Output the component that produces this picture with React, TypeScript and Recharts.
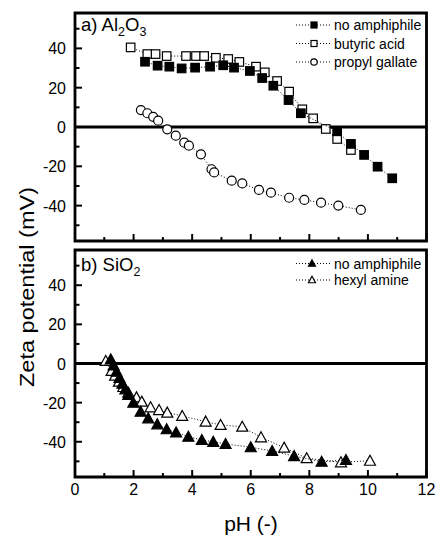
import React from 'react';
import { ScatterChart, Scatter, XAxis, YAxis, ReferenceLine, ReferenceArea, Customized } from 'recharts';

// ---- Data (pH, zeta potential mV) ----
const alNonePH = [2.39, 2.82, 3.22, 3.64, 4.10, 4.61, 5.06, 5.43, 5.97, 6.39, 6.77, 7.29, 7.71, 8.95, 9.42, 9.87, 10.33, 10.83];
const alNoneZeta = [33.2, 31.2, 30.7, 29.8, 30.2, 30.7, 31.4, 30.2, 28.5, 24.9, 21.0, 13.7, 7.0, -2.2, -8.6, -14.2, -20.2, -26.1];

const alButyricPH = [1.90, 2.47, 2.75, 3.13, 3.79, 4.13, 4.41, 4.81, 5.23, 5.61, 6.18, 6.48, 6.90, 7.31, 7.76, 8.13, 8.56, 8.95, 9.42];
const alButyricZeta = [40.5, 37.1, 37.1, 36.1, 36.1, 36.1, 36.1, 35.2, 34.6, 33.1, 30.7, 27.8, 23.4, 18.0, 9.0, 4.4, -1.0, -6.1, -11.7];

const alGallatePH = [2.25, 2.47, 2.67, 2.84, 3.15, 3.44, 3.73, 3.89, 4.30, 4.66, 4.75, 5.35, 5.71, 6.28, 6.69, 7.31, 7.83, 8.40, 8.99, 9.76];
const alGallateZeta = [8.6, 7.0, 5.2, 3.2, -1.2, -4.4, -8.0, -9.5, -13.9, -21.5, -23.1, -27.3, -28.7, -32.0, -33.4, -36.0, -37.1, -38.5, -40.0, -42.2];

const siNonePH = [1.22, 1.32, 1.42, 1.52, 1.62, 1.72, 1.82, 1.99, 2.24, 2.50, 2.81, 3.13, 3.45, 3.87, 4.33, 4.72, 5.14, 6.00, 6.73, 7.48, 8.42, 9.25];
const siNoneZeta = [2.1, -1.0, -4.2, -7.3, -10.3, -13.2, -16.1, -20.0, -24.6, -28.0, -31.1, -33.6, -35.2, -37.4, -39.1, -40.0, -41.1, -42.8, -44.7, -47.3, -50.2, -49.3];

const siHexylPH = [1.05, 1.25, 1.37, 1.50, 1.65, 1.82, 2.10, 2.28, 2.58, 2.87, 3.15, 3.66, 4.46, 4.97, 5.71, 6.35, 7.14, 7.91, 9.08, 10.07];
const siHexylZeta = [1.3, -3.8, -6.2, -9.3, -12.0, -14.9, -17.3, -19.5, -22.4, -23.8, -25.1, -26.8, -29.7, -31.4, -32.3, -37.7, -43.0, -48.4, -50.5, -49.7];

const xTicks = [0, 1, 2, 3, 4, 5, 6, 7, 8, 9, 10, 11, 12];
const yTicks = [-50, -40, -30, -20, -10, 0, 10, 20, 30, 40, 50];
const xDomain = [0, 12];
const yDomain = [-58, 58];

const legendA = ['no amphiphile', 'butyric acid', 'propyl gallate'];
const legendB = ['no amphiphile', 'hexyl amine'];

const zip = (xs: number[], ys: number[]) => xs.map((x, i) => ({ x, y: ys[i] }));

const FONT = '"Liberation Sans", Arial, sans-serif';
const lineStyle = { stroke: '#000', strokeWidth: 1, strokeDasharray: '1 2' };

// ---- Markers ----
const square = (filled: boolean, s = 8.5) => (p: any) => (
  <rect x={p.cx - s / 2} y={p.cy - s / 2} width={s} height={s} fill={filled ? '#000' : '#fff'} stroke="#000" strokeWidth={1.2} />
);
const circle = (r = 4.5) => (p: any) => (
  <circle cx={p.cx} cy={p.cy} r={r} fill="#fff" stroke="#000" strokeWidth={1.2} />
);
const triangle = (filled: boolean, w = 11, h = 9) => (p: any) => (
  <polygon
    points={`${p.cx},${p.cy - h / 2 - 1} ${p.cx + w / 2},${p.cy + h / 2} ${p.cx - w / 2},${p.cy + h / 2}`}
    fill={filled ? '#000' : '#fff'}
    stroke="#000"
    strokeWidth={1.2}
    strokeLinejoin="miter"
  />
);

// ---- Ticks ----
const makeXTick = (showLabel: boolean) => (p: any) => {
  const v = p.payload.value;
  const major = v % 2 === 0;
  return (
    <g>
      <line x1={p.x} x2={p.x} y1={p.y} y2={p.y - (major ? 7 : 4)} stroke="#000" strokeWidth={2} />
      {showLabel && major ? (
        <text x={p.x} y={p.y + 18} textAnchor="middle" fontSize={16} fontFamily={FONT} fill="#000">
          {v}
        </text>
      ) : null}
    </g>
  );
};
const yTick = (p: any) => {
  const v = p.payload.value;
  const major = v % 20 === 0;
  return (
    <g>
      <line x1={p.x} x2={p.x + (major ? 7 : 4.5)} y1={p.y} y2={p.y} stroke="#000" strokeWidth={2} />
      {major ? (
        <text x={p.x - 9} y={p.y + 6} textAnchor="end" fontSize={16} fontFamily={FONT} fill="#000">
          {v}
        </text>
      ) : null}
    </g>
  );
};

// ---- Legend rows ----
const LegendRow = ({ y, label, marker }: { y: number; label: string; marker: React.ReactNode }) => (
  <g>
    <line x1={296} x2={331} y1={y} y2={y} {...lineStyle} />
    {marker}
    <text x={334} y={y + 5} fontSize={14} fontFamily={FONT} fill="#000">{label}</text>
  </g>
);

const DecorA = () => {
  const rows = [25, 43.5, 62];
  return (
    <g>
      <text x={81} y={31} fontSize={18.5} fontFamily={FONT} fill="#000">
        a) Al<tspan fontSize={12.5} dy={5}>2</tspan><tspan dy={-5}>O</tspan><tspan fontSize={12.5} dy={5}>3</tspan>
      </text>
      <LegendRow y={rows[0]} label={legendA[0]} marker={square(true, 6)({ cx: 314, cy: rows[0] })} />
      <LegendRow y={rows[1]} label={legendA[1]} marker={square(false, 6)({ cx: 314, cy: rows[1] })} />
      <LegendRow y={rows[2]} label={legendA[2]} marker={circle(3.2)({ cx: 314, cy: rows[2] })} />
    </g>
  );
};

const DecorB = () => {
  const rows = [263.5, 280];
  return (
    <g>
      <text x={81} y={271} fontSize={18.5} fontFamily={FONT} fill="#000">
        b) SiO<tspan fontSize={12.5} dy={5}>2</tspan>
      </text>
      <LegendRow y={rows[0]} label={legendB[0]} marker={triangle(true, 7, 5.5)({ cx: 312, cy: rows[0] })} />
      <LegendRow y={rows[1]} label={legendB[1]} marker={triangle(false, 7, 5.5)({ cx: 312, cy: rows[1] })} />
      <text
        x={0}
        y={0}
        transform="translate(27,287) rotate(-90)"
        textAnchor="middle"
        dy="0.36em"
        fontSize={19.5}
        fontFamily={FONT}
        fill="#000"
        textLength={200}
        lengthAdjust="spacingAndGlyphs"
      >
        Zeta potential (mV)
      </text>
      <text x={251} y={531} textAnchor="middle" fontSize={21} fontFamily={FONT} fill="#000">
        pH (-)
      </text>
    </g>
  );
};

const Frame = () => (
  <>
    <ReferenceArea x1={xDomain[0]} x2={xDomain[1]} y1={yDomain[0]} y2={yDomain[1]} fill="none" fillOpacity={0} stroke="#000" strokeWidth={2.8} strokeOpacity={1} />
    <ReferenceLine y={0} stroke="#000" strokeWidth={2.8} />
  </>
);

export default function App() {
  return (
    <div style={{ position: 'absolute', left: 0, top: 0, width: 440, height: 540, background: '#fff' }}>
      <div style={{ position: 'absolute', left: 0, top: 0 }}>
        <ScatterChart width={440} height={540} margin={{ top: 250, right: 13.5, bottom: 0, left: 0 }}>
          <XAxis type="number" dataKey="x" domain={xDomain} ticks={xTicks} interval={0} height={63} tickSize={0} tickMargin={0} axisLine={false} tickLine={false} tick={makeXTick(true)} allowDataOverflow />
          <YAxis type="number" dataKey="y" domain={yDomain} ticks={yTicks} interval={0} width={75} tickSize={0} tickMargin={0} axisLine={false} tickLine={false} tick={yTick} allowDataOverflow />
          {Frame()}
          <Scatter data={zip(siHexylPH, siHexylZeta)} line={lineStyle} lineType="joint" shape={triangle(false)} isAnimationActive={false} />
          <Scatter data={zip(siNonePH, siNoneZeta)} line={lineStyle} lineType="joint" shape={triangle(true)} isAnimationActive={false} />
          <Customized component={DecorB} />
        </ScatterChart>
      </div>
      <div style={{ position: 'absolute', left: 0, top: 0 }}>
        <ScatterChart width={440} height={250} margin={{ top: 13, right: 13.5, bottom: 0, left: 0 }}>
          <XAxis type="number" dataKey="x" domain={xDomain} ticks={xTicks} interval={0} height={9} tickSize={0} tickMargin={0} axisLine={false} tickLine={false} tick={makeXTick(false)} allowDataOverflow />
          <YAxis type="number" dataKey="y" domain={yDomain} ticks={yTicks} interval={0} width={75} tickSize={0} tickMargin={0} axisLine={false} tickLine={false} tick={yTick} allowDataOverflow />
          {Frame()}
          <Scatter data={zip(alGallatePH, alGallateZeta)} line={lineStyle} lineType="joint" shape={circle()} isAnimationActive={false} />
          <Scatter data={zip(alButyricPH, alButyricZeta)} line={lineStyle} lineType="joint" shape={square(false)} isAnimationActive={false} />
          <Scatter data={zip(alNonePH, alNoneZeta)} line={lineStyle} lineType="joint" shape={square(true)} isAnimationActive={false} />
          <Customized component={DecorA} />
        </ScatterChart>
      </div>
    </div>
  );
}
